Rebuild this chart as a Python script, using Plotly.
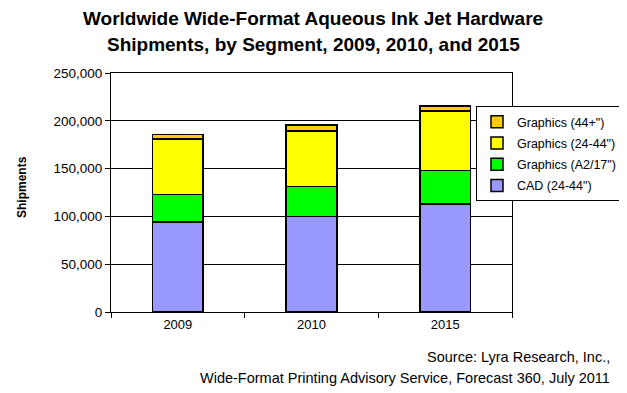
import plotly.graph_objects as go

years = ["2009", "2010", "2015"]
cad = [94000, 100000, 113000]
graphics_a2 = [29000, 31500, 35000]
graphics_2444 = [58000, 58000, 62000]
graphics_44plus = [4500, 6000, 5500]

series = [
    ("CAD (24-44\")", cad, "#9999FF"),
    ("Graphics (A2/17\")", graphics_a2, "#00FF00"),
    ("Graphics (24-44\")", graphics_2444, "#FFFF00"),
    ("Graphics (44+\")", graphics_44plus, "#FFCC00"),
]

fig = go.Figure()
for i, (name, vals, col) in enumerate(series):
    fig.add_trace(go.Bar(x=years, y=vals, name=name, legendgroup="g%d" % i,
                         legendrank=1000 - i,
                         marker=dict(color=col, line=dict(color="black", width=1.5))))

font = "Liberation Sans, Arial, sans-serif"
# page body has an 8px margin; plot area on screen spans x 111..512, y 73..312
OFF = 8
PL, PR, PT, PB = 111, 512, 73, 312
W, H = 627 - OFF, 393 - OFF
L, T = PL - OFF, PT - OFF
R = W - L - (PR - PL)
B = H - T - (PB - PT)

def px_x(x):
    return (x - PL) / (PR - PL)

def px_y(y):
    return (PB - y) / (PB - PT)

fig.update_layout(
    width=W, height=H,
    barmode="stack", bargap=0.62,
    paper_bgcolor="white", plot_bgcolor="white",
    margin=dict(l=L, r=R, t=T, b=B, autoexpand=False),
    font=dict(family=font, size=13, color="black"),
    legend=dict(traceorder="grouped", x=px_x(476), xanchor="left", y=px_y(106), yanchor="top",
                bgcolor="white", bordercolor="black", borderwidth=1,
                font=dict(family=font, size=12.5), itemwidth=30, tracegroupgap=2),
    showlegend=True,
)
fig.update_xaxes(type="category", showline=True, linecolor="black", linewidth=1, mirror=True,
                 ticks="outside", tickson="boundaries", ticklen=5, tickcolor="black",
                 tickfont=dict(family=font, size=13), showgrid=False)
fig.update_yaxes(range=[0, 250000], dtick=50000, tickformat=",d", showline=True, linecolor="black",
                 linewidth=1, mirror=True, ticks="outside", ticklen=5, tickcolor="black",
                 showgrid=True, gridcolor="black", gridwidth=1, zeroline=False,
                 tickfont=dict(family=font, size=13.5))

# Titles and notes
fig.add_annotation(text="<b>Worldwide Wide-Format Aqueous Ink Jet Hardware</b>",
                   xref="paper", yref="paper", x=px_x(313), y=px_y(19), xanchor="center", yanchor="middle",
                   showarrow=False, font=dict(family=font, size=19))
fig.add_annotation(text="<b>Shipments, by Segment, 2009, 2010, and 2015</b>",
                   xref="paper", yref="paper", x=px_x(313), y=px_y(45), xanchor="center", yanchor="middle",
                   showarrow=False, font=dict(family=font, size=19))
fig.add_annotation(text="<b>Shipments</b>", textangle=-90,
                   xref="paper", yref="paper", x=px_x(22), y=px_y(187), xanchor="center", yanchor="middle",
                   showarrow=False, font=dict(family=font, size=12))
fig.add_annotation(text="Source: Lyra Research, Inc.,",
                   xref="paper", yref="paper", x=px_x(612), y=px_y(357), xanchor="right", yanchor="middle",
                   showarrow=False, font=dict(family=font, size=14.5))
fig.add_annotation(text="Wide-Format Printing Advisory Service, Forecast 360, July 2011",
                   xref="paper", yref="paper", x=px_x(612), y=px_y(378), xanchor="right", yanchor="middle",
                   showarrow=False, font=dict(family=font, size=14.5))
fig.write_html("out.html")
